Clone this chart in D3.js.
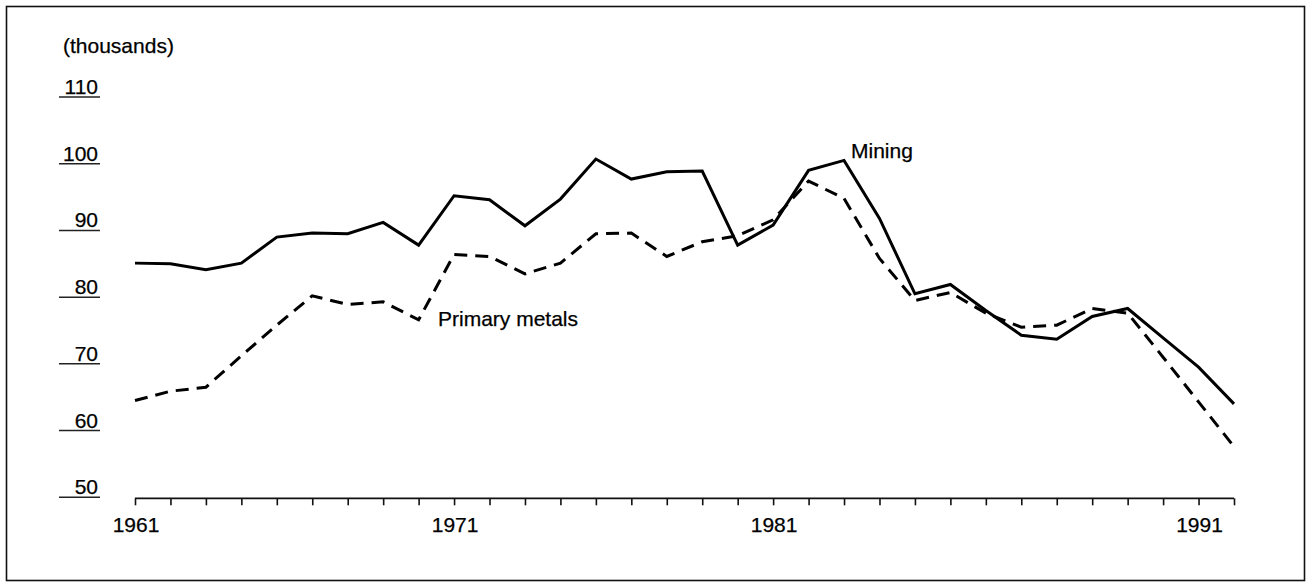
<!DOCTYPE html>
<html>
<head>
<meta charset="utf-8">
<script src="https://cdn.jsdelivr.net/npm/d3@7"></script>
<style>
  html, body { margin: 0; padding: 0; background: #fff; }
  svg { display: block; }
  text { font-family: "Liberation Sans", Arial, Helvetica, sans-serif; fill: #000; stroke: #000; stroke-width: 0.25px; }
</style>
</head>
<body>
<svg id="chart" width="1310" height="583"></svg>
<script>
// ---- data ----
const years = d3.range(1961, 1993);
const mining = [85.1, 85.0, 84.1, 85.1, 89.0, 89.6, 89.5, 91.2, 87.8, 95.2,
                94.6, 90.7, 94.7, 100.7, 97.7, 98.8, 98.9, 87.8, 90.8, 99.0,
                100.5, 91.8, 80.5, 81.9, 78.0, 74.3, 73.7, 77.1, 78.3, 73.9,
                69.5, 64.0];
const primaryMetals = [64.5, 65.9, 66.5, 71.2, 75.8, 80.2, 78.9, 79.3, 76.6, 86.4,
                       86.1, 83.5, 85.1, 89.5, 89.6, 86.1, 88.3, 89.2, 91.6, 97.4,
                       94.8, 85.8, 79.5, 80.7, 77.6, 75.5, 75.8, 78.3, 77.6, 71.0,
                       64.3, 57.6];
const yTicks = [50, 60, 70, 80, 90, 100, 110];
// x tick labels as placed in the source (label text, year position of the tick it sits under)
const xLabelText = ["1961", "1971", "1981", "1991"];
const xLabelAt = [1961, 1970, 1979, 1991];
const unitLabel = "(thousands)";
const seriesNames = ["Mining", "Primary metals"];

// ---- layout ----
const svg = d3.select("#chart");
const x = d3.scaleLinear().domain([1961, 1992]).range([135, 1234]);
const y = d3.scaleLinear().domain([50, 110]).range([497.3, 97]);
const FS = 21;

// frame
svg.append("rect").attr("x", 6.5).attr("y", 6.5).attr("width", 1298).attr("height", 574)
  .attr("fill", "none").attr("stroke", "#111").attr("stroke-width", 1.6);

// unit label
svg.append("text").attr("x", 63).attr("y", 53).attr("font-size", FS).text(unitLabel);

// y ticks: number with underline
const yg = svg.append("g");
yTicks.forEach(v => {
  yg.append("line").attr("x1", 59).attr("x2", 100).attr("y1", y(v)).attr("y2", y(v))
    .attr("stroke", "#222").attr("stroke-width", 1.5);
  yg.append("text").attr("x", 98).attr("y", y(v) - 3).attr("text-anchor", "end")
    .attr("font-size", FS).text(v);
});

// x axis
const axisY = y(50) + 1;
const xAxis = d3.axisBottom(x).tickValues(years).tickSize(7).tickFormat("");
const xg = svg.append("g").attr("transform", `translate(0,${axisY})`).call(xAxis);
xg.select(".domain").attr("stroke", "#111").attr("stroke-width", 1.8)
  .attr("d", `M${x(1961)},0H${x(1992)}`);
xg.selectAll(".tick line").attr("stroke", "#111").attr("stroke-width", 1.6);
xLabelText.forEach((t, i) => {
  svg.append("text").attr("x", x(xLabelAt[i]) + 1).attr("y", 532)
    .attr("text-anchor", "middle").attr("font-size", FS).text(t);
});

// lines
const line = d3.line().x((d, i) => x(years[i])).y(d => y(d));
svg.append("path").datum(mining).attr("d", line)
  .attr("fill", "none").attr("stroke", "#000").attr("stroke-width", 3)
  .attr("stroke-linejoin", "miter");
svg.append("path").datum(primaryMetals).attr("d", line)
  .attr("fill", "none").attr("stroke", "#000").attr("stroke-width", 3)
  .attr("stroke-dasharray", "13,8");

// series labels
svg.append("text").attr("x", 851).attr("y", 158).attr("font-size", FS).text(seriesNames[0]);
svg.append("text").attr("x", 438).attr("y", 326).attr("font-size", FS).text(seriesNames[1]);
</script>
</body>
</html>
